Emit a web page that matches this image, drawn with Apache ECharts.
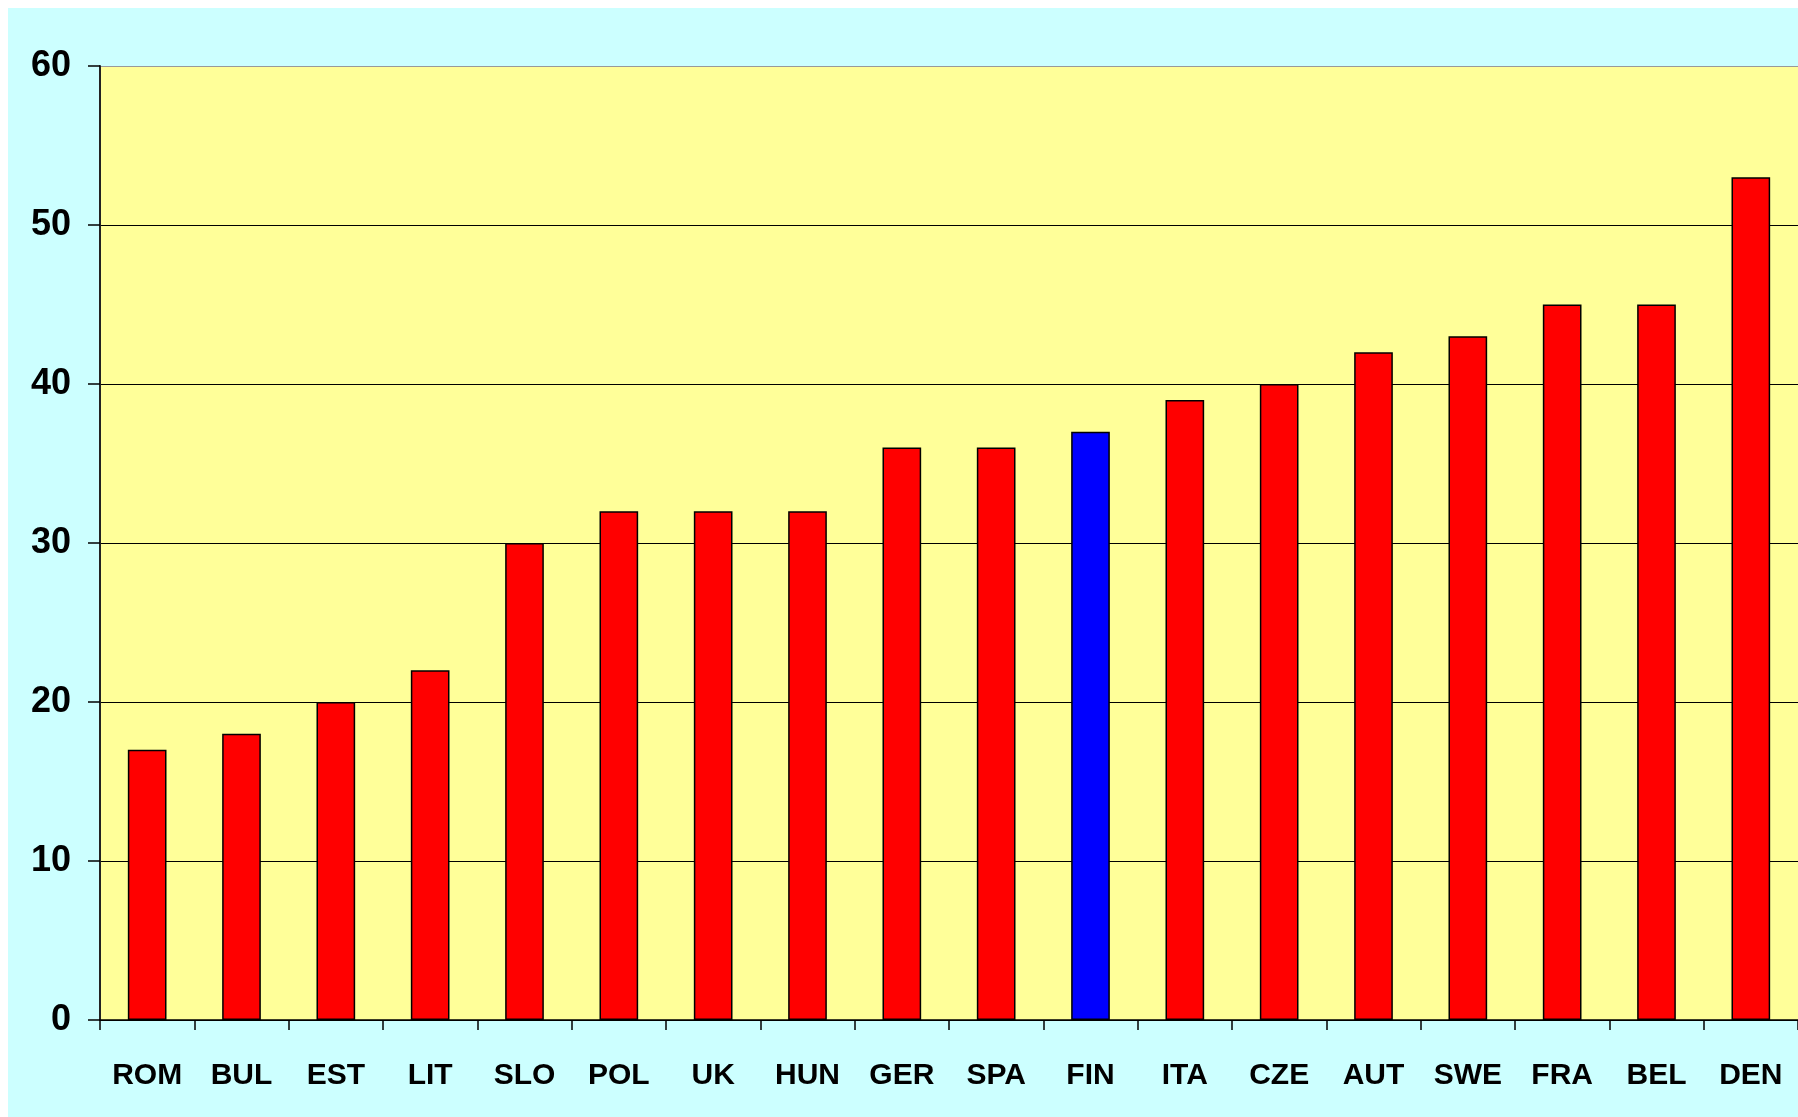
<!DOCTYPE html>
<html>
<head>
<meta charset="utf-8">
<script src="https://cdn.jsdelivr.net/npm/echarts@6/dist/echarts.min.js"></script>
<style>
  html, body { margin: 0; padding: 0; background: #fff; }
  #chart { position: absolute; left: 8px; top: 8px; width: 1790px; height: 1109px; }
</style>
</head>
<body>
<div id="chart"></div>
<script>
const countries = ['ROM', 'BUL', 'EST', 'LIT', 'SLO', 'POL', 'UK', 'HUN', 'GER', 'SPA', 'FIN', 'ITA', 'CZE', 'AUT', 'SWE', 'FRA', 'BEL', 'DEN'];
const values = [17, 18, 20, 22, 30, 32, 32, 32, 36, 36, 37, 39, 40, 42, 43, 45, 45, 53];
const highlighted = 'FIN';

const font = '"Liberation Sans", Arial, sans-serif';

const chart = echarts.init(document.getElementById('chart'));

chart.setOption({
    backgroundColor: '#CCFFFF',
    animation: false,
    grid: {
        left: 92, right: 0, top: 58, bottom: 97,
        show: true, backgroundColor: '#FFFF99', borderWidth: 0,
    },
    xAxis: {
        type: 'category',
        data: countries,
        axisLine: { lineStyle: { color: '#000', width: 1.5 } },
        axisTick: { show: true, length: 10, interval: 0, lineStyle: { color: '#000', width: 1.5 } },
        axisLabel: {
            interval: 0, margin: 41,
            color: '#000', fontFamily: font, fontWeight: 'bold', fontSize: 30,
        },
    },
    yAxis: {
        type: 'value',
        min: 0, max: 60, interval: 10,
        axisLine: { show: true, lineStyle: { color: '#222', width: 2 } },
        axisTick: { show: true, length: 12, lineStyle: { color: '#000', width: 1.5 } },
        axisLabel: {
            margin: 29,
            color: '#000', fontFamily: font, fontWeight: 'bold', fontSize: 36,
        },
        splitLine: {
            lineStyle: { color: ['#000', '#000', '#000', '#000', '#000', '#000', '#999'], width: 1.2 },
        },
    },
    series: [{
        type: 'bar',
        barWidth: '41%',
        data: countries.map((c, i) => ({
            value: values[i],
            itemStyle: { color: c === highlighted ? '#0000FF' : '#FF0000' },
        })),
        itemStyle: { borderColor: '#000', borderWidth: 1.5 },
    }],
});
</script>
</body>
</html>
